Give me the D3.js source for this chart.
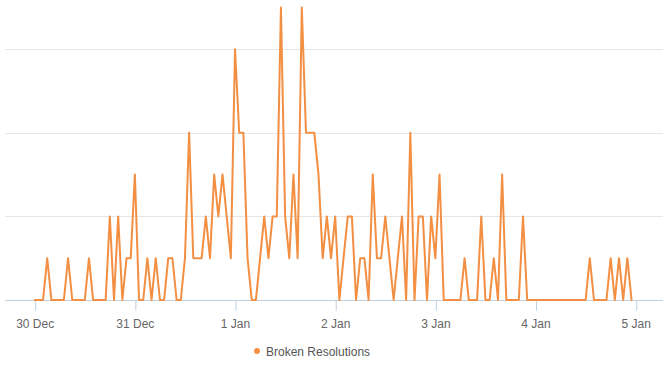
<!DOCTYPE html>
<html>
<head>
<meta charset="utf-8">
<script src="https://cdn.jsdelivr.net/npm/d3@7"></script>
<style>
    body { margin: 0; background: #fff; }
    svg { display: block; font-family: "Liberation Sans", Arial, sans-serif; }
    .axis path, .axis line { stroke: #c0d0e0; }
    .axis text { fill: #666; font-size: 12px; }
</style>
</head>
<body>
<div id="chart"></div>
<script>
// hourly counts, starting 30 Dec 00:00
var seriesName = "Broken Resolutions";
var startHour = Date.UTC(2013, 11, 30);
var hourValues = [
    0, 0, 0, 1, 0, 0, 0, 0, 1, 0, 0, 0, 0, 1, 0, 0, 0, 0, 2, 0, 2, 0, 1, 1,
    3, 0, 0, 1, 0, 1, 0, 0, 1, 1, 0, 0, 1, 4, 1, 1, 1, 2, 1, 3, 2, 3, 2, 1,
    6, 4, 4, 1, 0, 0, 1, 2, 1, 2, 2, 7, 2, 1, 3, 1, 7, 4, 4, 4, 3, 1, 2, 1,
    2, 0, 1, 2, 2, 0, 1, 1, 0, 3, 1, 1, 2, 1, 0, 1, 2, 0, 4, 0, 2, 2, 0, 2,
    1, 3, 0, 0, 0, 0, 0, 1, 0, 0, 0, 2, 0, 0, 1, 0, 3, 0, 0, 0, 0, 2, 0, 0,
    0, 0, 0, 0, 0, 0, 0, 0, 0, 0, 0, 0, 0, 1, 0, 0, 0, 0, 1, 0, 1, 0, 1, 0
];
var tickDays = ["2013-12-30", "2013-12-31", "2014-01-01", "2014-01-02", "2014-01-03", "2014-01-04", "2014-01-05"];
var gridValues = [2, 4, 6];

var width = 667, height = 366;
var left = 5, right = 663, bottom = 300;

var data = hourValues.map(function (v, i) {
    return { t: new Date(startHour + i * 3600e3), value: v };
});
var ticks = tickDays.map(function (s) { return new Date(s + "T00:00:00Z"); });

var svg = d3.select("#chart").append("svg")
    .attr("width", width)
    .attr("height", height);

var x = d3.scaleUtc()
    .domain([ticks[0], ticks[ticks.length - 1]])
    .range([34.7, 635.7]);

var y = d3.scaleLinear()
    .domain([0, 7])
    .range([bottom, bottom - 7 * 41.8]);

// gridlines
svg.append("g")
    .selectAll("line")
    .data(gridValues)
    .enter().append("line")
    .attr("x1", left)
    .attr("x2", right)
    .attr("y1", function (d) { return Math.round(y(d)) + 0.5; })
    .attr("y2", function (d) { return Math.round(y(d)) + 0.5; })
    .attr("stroke", "#e6e6e6")
    .attr("stroke-width", 1);

// x axis
var xAxis = svg.append("g")
    .attr("class", "axis")
    .attr("transform", "translate(0," + (bottom + 0.5) + ")")
    .call(d3.axisBottom(x)
        .tickValues(ticks)
        .tickSize(10)
        .tickSizeOuter(0)
        .tickPadding(9)
        .tickFormat(d3.utcFormat("%-d %b")));

xAxis.select(".domain")
    .attr("d", "M" + left + ",0H" + right);

xAxis.selectAll(".tick line")
    .attr("transform", "translate(0.5,0)");

// the series line
var line = d3.line()
    .x(function (d) { return x(d.t); })
    .y(function (d) { return y(d.value); });

svg.append("path")
    .datum(data)
    .attr("d", line)
    .attr("fill", "none")
    .attr("stroke", "#f28f43")
    .attr("stroke-width", 2)
    .attr("stroke-linejoin", "round")
    .attr("stroke-linecap", "round");

// legend
var legend = svg.append("g")
    .attr("transform", "translate(257,351)");

legend.append("circle")
    .attr("r", 3)
    .attr("fill", "#f28f43");

legend.append("text")
    .attr("x", 9)
    .attr("y", 4.5)
    .attr("font-size", "12px")
    .attr("fill", "#555")
    .text(seriesName);
</script>
</body>
</html>
